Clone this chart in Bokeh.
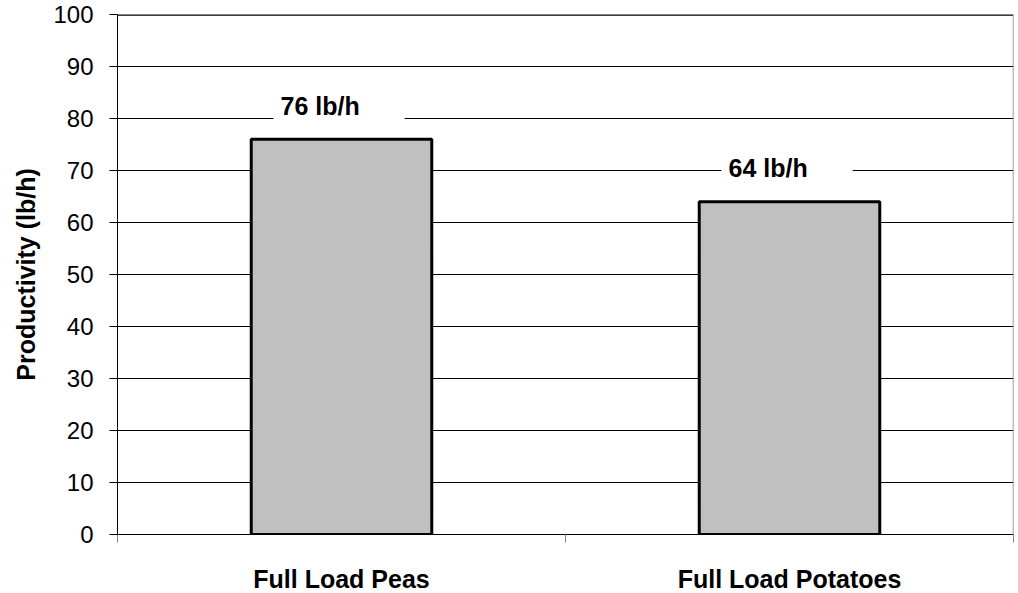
from bokeh.plotting import figure
from bokeh.models import ColumnDataSource, FixedTicker, Span, Range1d
from bokeh.core.properties import value
from bokeh.embed import file_html
from bokeh.resources import INLINE

categories = ["Full Load Peas", "Full Load Potatoes"]
values = [76, 64]
labels = ["76 lb/h", "64 lb/h"]
y_ticks = [0, 10, 20, 30, 40, 50, 60, 70, 80, 90, 100]

xs = [i + 0.5 for i in range(len(categories))]
src = ColumnDataSource(dict(x=xs, top=values, label=labels,
                            ly=[v + 6.5 for v in values]))

FONT = "Liberation Sans"

p = figure(frame_width=896, frame_height=520, output_backend="svg",
           toolbar_location=None, x_range=Range1d(0, len(categories)),
           y_range=Range1d(0, 100))
p.min_border_left = 117
p.min_border_right = 5
p.min_border_top = 14
p.min_border_bottom = 59
p.outline_line_color = None
p.background_fill_color = "white"
p.border_fill_color = "white"

p.vbar(x="x", top="top", width=0.403, bottom=0, source=src,
       fill_color="#C0C0C0", line_color="black", line_width=3)

p.text(x="x", y="ly", text="label", source=src, x_offset=-68,
       text_align="left", text_baseline="middle",
       text_font=value(FONT), text_font_style="bold",
       text_font_size="25px", text_color="black",
       background_fill_color="white",
       padding=dict(left=7, right=45, top=4, bottom=4))

# y axis
p.yaxis.ticker = FixedTicker(ticks=y_ticks)
p.yaxis.axis_line_color = "black"
p.yaxis.major_tick_out = 8
p.yaxis.major_tick_in = 0
p.yaxis.minor_tick_line_color = None
p.yaxis.major_label_text_font = FONT
p.yaxis.major_label_text_font_size = "24px"
p.yaxis.major_label_text_color = "black"
p.yaxis.major_label_standoff = 16
p.yaxis.axis_label = "Productivity (lb/h)"
p.yaxis.axis_label_text_font = FONT
p.yaxis.axis_label_text_font_style = "bold"
p.yaxis.axis_label_text_font_size = "25px"
p.yaxis.axis_label_text_color = "black"
p.yaxis.axis_label_standoff = 10

# x axis
p.xaxis.ticker = FixedTicker(ticks=xs, minor_ticks=list(range(len(categories) + 1)))
p.xaxis.major_label_overrides = {x: c for x, c in zip(xs, categories)}
p.xaxis.major_tick_out = 0
p.xaxis.major_tick_in = 0
p.xaxis.minor_tick_out = 8
p.xaxis.minor_tick_in = 0
p.xaxis.minor_tick_line_color = "#808080"
p.xaxis.axis_line_color = "black"
p.xaxis.major_label_text_font = FONT
p.xaxis.major_label_text_font_style = "bold"
p.xaxis.major_label_text_font_size = "25px"
p.xaxis.major_label_text_color = "black"
p.xaxis.major_label_standoff = 22

p.xgrid.grid_line_color = None
p.ygrid.ticker = FixedTicker(ticks=y_ticks)
p.ygrid.grid_line_color = "black"
p.ygrid.grid_line_width = 1

p.add_layout(Span(location=100, dimension="width", line_color="black", line_width=2.5))
p.add_layout(Span(location=len(categories), dimension="height", line_color="#808080", line_width=1.5))

open("out.html", "w").write(file_html(p, INLINE))
